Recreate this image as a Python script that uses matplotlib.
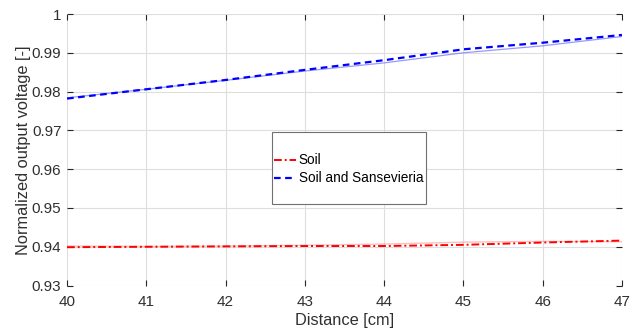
import matplotlib
matplotlib.use("Agg")
import matplotlib.pyplot as plt
from matplotlib.patches import Rectangle

plt.rcParams['font.family'] = ['Liberation Sans', 'DejaVu Sans']

distance = [40, 41, 42, 43, 44, 45, 46, 47]
soil_main = [0.9399, 0.9400, 0.9401, 0.9402, 0.9402, 0.9405, 0.9411, 0.9416]
soil_faint = [0.9402, 0.9401, 0.9402, 0.9404, 0.9407, 0.9412, 0.9414, 0.9413]
sans_main = [0.9782, 0.9806, 0.9830, 0.9856, 0.9881, 0.9909, 0.9926, 0.9946]
sans_faint = [0.9784, 0.9806, 0.9829, 0.9853, 0.9874, 0.9900, 0.9918, 0.9942]

xticks = [40, 41, 42, 43, 44, 45, 46, 47]
yticks = [0.93, 0.94, 0.95, 0.96, 0.97, 0.98, 0.99, 1.0]
yticklabels = ['0.93', '0.94', '0.95', '0.96', '0.97', '0.98', '0.99', '1']

fig = plt.figure(figsize=(6.42, 3.31), dpi=100)
ax = fig.add_axes([0.1044, 0.1372, 0.8644, 0.8205])

ax.plot(distance, sans_faint, color='#8080ff', lw=0.9, alpha=0.8)
ax.plot(distance, soil_faint, color='#ff8080', lw=1.0, alpha=0.5)
l1, = ax.plot(distance, soil_main, color='red', lw=1.4, linestyle=(0, (4, 1.5, 1, 1.5)), label='Soil')
l2, = ax.plot(distance, sans_main, color='blue', lw=1.6, linestyle=(0, (3, 2)), label='Soil and Sansevieria')

ax.set_xlim(40, 47)
ax.set_ylim(0.93, 1.0)
ax.set_xticks(xticks)
ax.set_xticklabels([str(x) for x in xticks])
ax.set_yticks(yticks)
ax.set_yticklabels(yticklabels)
ax.grid(True, color='#dedede', lw=0.8)
for s in ax.spines.values():
    s.set_visible(False)
ax.tick_params(direction='in', length=4, width=0.8, color='#262626', labelsize=11,
               top=True, right=True, labelcolor='#303030')
ax.tick_params(axis='x', pad=6.5)
ax.tick_params(axis='y', pad=4)
ax.set_xlabel('Distance [cm]', fontsize=11.8, color='#303030', labelpad=3)
ax.set_ylabel('Normalized output voltage [-]', fontsize=11.8, color='#303030', labelpad=0.5)

# legend box
ax.add_patch(Rectangle((0.3694, 0.2999), 154 / 555, 72 / 271.6, transform=ax.transAxes,
                       facecolor='white', edgecolor='#707070', lw=0.8, zorder=5))
leg = ax.legend(handles=[l1, l2], loc='center left', bbox_to_anchor=(0.3730, 0.428),
                frameon=False, fontsize=9.8, handlelength=1.6,
                handletextpad=0.22, borderpad=0, labelspacing=0.3, borderaxespad=0)
leg.set_zorder(6)

fig.savefig('out.png', dpi=100)
